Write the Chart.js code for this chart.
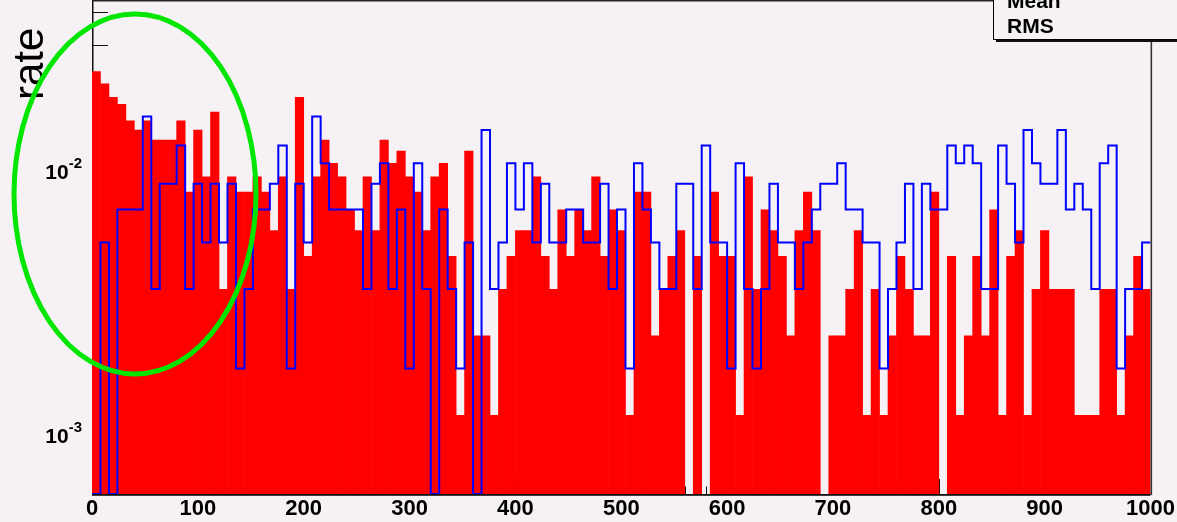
<!DOCTYPE html>
<html>
<head>
<meta charset="utf-8">
<script src="https://cdn.jsdelivr.net/npm/chart.js@4.4.0/dist/chart.umd.min.js"></script>
<style>
html,body{margin:0;padding:0;background:#f5f1f5;overflow:hidden}
#wrap{width:1177px;height:522px;position:relative}
</style>
</head>
<body>
<div id="wrap"><canvas id="c" width="1177" height="522"></canvas></div>
<script>
// ---- histogram binning ----
const nBins = 125, xMin = 0, xMax = 1000;
const yMin = 6e-4, yMax = 0.044;

// ---- filled red histogram (rate per bin) ----
const redRate = [
  0.0238,0.0214,0.0190,0.0179,0.0155,0.0143,0.0155,0.0131,0.0131,0.0131,
  0.0155,0.00833,0.0143,0.00952,0.0167,0.00357,0.00952,0.00833,0.00833,0.00952,
  0.00833,0.00595,0.00952,0.00357,0.0190,0.00476,0.00952,0.0131,0.0107,0.00952,
  0.00714,0.00595,0.00952,0.00595,0.0131,0.0107,0.0119,0.00952,0.00833,0.00595,
  0.00952,0.0107,0.00476,0.00119,0.0119,0.00238,0.00238,0.00119,0.00357,0.00476,
  0.00595,0.00595,0.00952,0.00476,0.00357,0.00714,0.00476,0.00714,0.00595,0.00952,
  0.00476,0.00714,0.00595,0.00119,0.00833,0.00833,0.00238,0.00357,0.00476,0.00595,
  0,0.00476,0,0.00833,0.00476,0.00476,0.00119,0.00952,0.00357,0.00714,
  0.00595,0.00476,0.00238,0.00595,0.00833,0.00595,0,0.00238,0.00238,0.00357,
  0.00595,0.00119,0.00357,0.00119,0.00238,0.00476,0.00357,0.00238,0.00238,0.00833,
  0,0.00476,0.00119,0.00238,0.00476,0.00238,0.00714,0.00119,0.00476,0.00595,
  0.00119,0.00357,0.00595,0.00357,0.00357,0.00357,0.00119,0.00119,0.00119,0.00357,
  0.00357,0.00119,0.00238,0.00476,0.00357
];

// ---- blue outline histogram (rate per bin) ----
const blueRate = [
  0,0.00537,0,0.00716,0.00716,0.00716,0.0161,0.00358,0.00895,0.00895,
  0.0125,0.00358,0.00895,0.00537,0.00895,0.00537,0.00895,0.00179,0.00358,0.00716,
  0.00716,0.00895,0.0125,0.00179,0.00895,0.00537,0.0161,0.0107,0.00716,0.00716,
  0.00716,0.00716,0.00358,0.00895,0.0107,0.00358,0.00716,0.00179,0.0107,0.00358,
  0,0.00716,0.00358,0.00179,0.00537,0,0.0143,0.00358,0.00537,0.0107,
  0.00716,0.0107,0.00537,0.00895,0.00537,0.00537,0.00716,0.00716,0.00537,0.00537,
  0.00895,0.00358,0.00716,0.00179,0.0107,0.00716,0.00537,0.00358,0.00358,0.00895,
  0.00895,0.00358,0.0125,0.00537,0.00537,0.00179,0.0107,0.00358,0.00179,0.00358,
  0.00895,0.00537,0.00537,0.00358,0.00537,0.00716,0.00895,0.00895,0.0107,0.00716,
  0.00716,0.00537,0.00537,0.00179,0.00358,0.00537,0.00895,0.00358,0.00895,0.00716,
  0.00716,0.0125,0.0107,0.0125,0.0107,0.00358,0.00358,0.0125,0.00895,0.00537,
  0.0143,0.0107,0.00895,0.00895,0.0143,0.00716,0.00895,0.00716,0.00358,0.0107,
  0.0125,0.00179,0.00358,0.00358,0.00537
];

// ---- axis labels ----
const xTickValues = [0,100,200,300,400,500,600,700,800,900,1000];
const yTickValues = [1e-3, 1e-2];
const yTickBase = '10';
const yTickExponents = ['-3', '-2'];
const yTitle = 'rate';
const statsLabels = ['Mean', 'RMS'];

const BG = '#f5f1f5';
const FONT = '"Liberation Sans", Arial, Helvetica, sans-serif';
const binWidth = (xMax - xMin) / nBins;

const redPoints = redRate.map((v, i) => ({ x: xMin + (i + 0.5) * binWidth, y: v > 0 ? v : null }));
const bluePoints = blueRate.map((v, i) => ({ x: xMin + i * binWidth, y: v > 0 ? v : yMin }));
bluePoints.push({ x: xMax, y: bluePoints[bluePoints.length - 1].y });

const rootPlugin = {
  id: 'rootStyle',
  beforeDraw(chart) {
    const ctx = chart.ctx;
    ctx.save();
    ctx.fillStyle = BG;
    ctx.fillRect(0, 0, chart.width, chart.height);
    ctx.restore();
  },
  beforeDatasetsDraw(chart) {
    const { ctx, chartArea: a, scales: { x, y } } = chart;
    ctx.save();
    ctx.fillStyle = '#111';
    ctx.fillRect(a.left, a.top, 1.5, a.bottom - a.top);
    ctx.fillRect(a.left, a.bottom, a.right - a.left, 1.8);
    ctx.strokeStyle = '#111';
    ctx.lineWidth = 1;
    ctx.beginPath();
    for (let e = -4; e <= -1; e++) {
      for (let m = 1; m <= 9; m++) {
        const v = m * Math.pow(10, e);
        if (v < yMin || v > yMax) continue;
        const py = Math.round(y.getPixelForValue(v)) + 0.5;
        const len = m === 1 ? 32 : 16;
        ctx.moveTo(a.left, py);
        ctx.lineTo(a.left + len, py);
      }
    }
    for (let v = xMin; v <= xMax; v += 20) {
      const px = Math.round(x.getPixelForValue(v)) + 0.5;
      const len = v % 100 === 0 ? 15 : 7.5;
      ctx.moveTo(px, a.bottom);
      ctx.lineTo(px, a.bottom - len);
    }
    ctx.stroke();
    ctx.restore();
  },
  afterDatasetsDraw(chart) {
    const { ctx, chartArea: a, scales: { y } } = chart;
    ctx.save();
    ctx.fillStyle = '#222';
    ctx.fillRect(a.left, 0, a.right - a.left, 1.5);
    ctx.fillStyle = '#333';
    ctx.fillRect(a.right, 0, 1.6, a.bottom + 1);

    const bx = 993, bb = 40;
    ctx.fillStyle = BG;
    ctx.fillRect(bx, -2, chart.width - bx + 2, bb + 2);
    ctx.strokeStyle = '#000';
    ctx.lineWidth = 1;
    ctx.strokeRect(bx + 0.5, -5, chart.width, bb + 4.5);
    ctx.fillStyle = '#111';
    ctx.fillRect(bx + 3, bb, chart.width, 2);
    ctx.fillStyle = '#000';
    ctx.font = 'bold 21px ' + FONT;
    ctx.textAlign = 'left';
    ctx.textBaseline = 'alphabetic';
    ctx.fillText(statsLabels[0], 1007, 8.3);
    ctx.fillText(statsLabels[1], 1007, 33.3);

    yTickValues.forEach((v, i) => {
      const py = y.getPixelForValue(v);
      ctx.font = 'bold 15px ' + FONT;
      const supW = ctx.measureText(yTickExponents[i]).width;
      const right = 82;
      ctx.textAlign = 'left';
      ctx.fillText(yTickExponents[i], right - supW, py - 3.5);
      ctx.font = 'bold 21px ' + FONT;
      ctx.textAlign = 'right';
      ctx.fillText(yTickBase, right - supW, py + 7.5);
    });

    ctx.save();
    ctx.translate(43.3, 100);
    ctx.rotate(-Math.PI / 2);
    ctx.font = '42px ' + FONT;
    ctx.textAlign = 'left';
    ctx.textBaseline = 'alphabetic';
    ctx.fillStyle = '#000';
    ctx.fillText(yTitle, 0, 0);
    ctx.restore();

    ctx.beginPath();
    ctx.ellipse(135, 194, 121, 180, 0, 0, Math.PI * 2);
    ctx.strokeStyle = '#00e600';
    ctx.lineWidth = 5;
    ctx.stroke();
    ctx.restore();
  }
};

new Chart(document.getElementById('c'), {
  type: 'bar',
  data: {
    datasets: [
      {
        type: 'line',
        label: 'blue',
        data: bluePoints,
        stepped: true,
        borderColor: '#0000ff',
        borderWidth: 2,
        pointRadius: 0,
        fill: false,
        tension: 0,
        order: 0
      },
      {
        type: 'bar',
        label: 'red',
        data: redPoints,
        backgroundColor: '#ff0000',
        borderWidth: 0,
        barPercentage: 1,
        categoryPercentage: 1,
        order: 1
      }
    ]
  },
  options: {
    responsive: false,
    devicePixelRatio: 1,
    animation: false,
    events: [],
    layout: { padding: { left: 0, right: 25, top: 1, bottom: 0 } },
    plugins: { legend: { display: false }, tooltip: { enabled: false }, title: { display: false } },
    scales: {
      x: {
        type: 'linear',
        min: xMin,
        max: xMax,
        offset: false,
        grid: { display: false, drawTicks: false },
        border: { display: false },
        afterBuildTicks: s => { s.ticks = xTickValues.map(v => ({ value: v })); },
        afterFit: s => { s.height = 28; },
        ticks: {
          autoSkip: false,
          maxRotation: 0,
          padding: 2,
          color: '#000',
          font: { family: FONT, size: 22, weight: 'bold' },
          callback: v => String(v)
        }
      },
      y: {
        type: 'logarithmic',
        min: yMin,
        max: yMax,
        grid: { display: false, drawTicks: false },
        border: { display: false },
        ticks: { display: false },
        afterFit: s => { s.width = 92; }
      }
    }
  },
  plugins: [rootPlugin]
});
</script>
</body>
</html>
